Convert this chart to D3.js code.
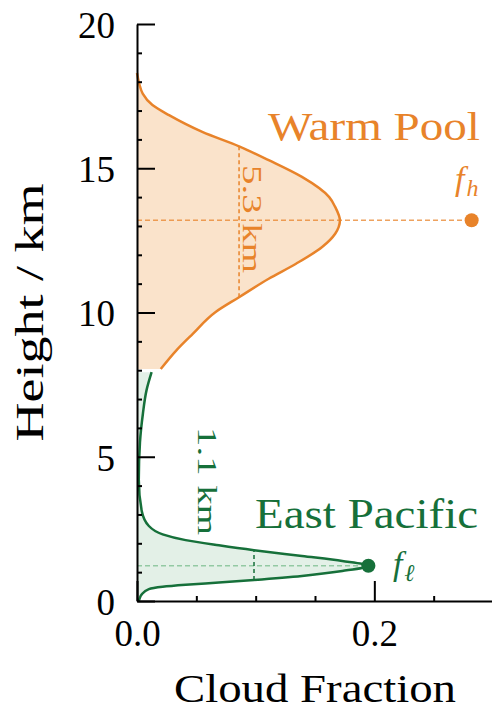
<!DOCTYPE html>
<html>
<head>
<meta charset="utf-8">
<script src="https://cdn.jsdelivr.net/npm/d3@7"></script>
<style>
  body { margin: 0; background: #fff; }
  svg { display: block; }
</style>
</head>
<body>
<svg id="chart" width="492" height="712"></svg>
<script>
// ---- data (height in km, cloud fraction) ----
const warmHeights  = [8.04, 8.68, 9.26, 10.01, 10.53, 11.17, 11.69, 12.27, 12.73, 13.19, 13.66, 14.0, 14.7, 15.28, 15.76, 16.26, 16.84, 17.19, 17.59, 17.94, 18.3];
const warmFraction = [0.020, 0.033, 0.047, 0.066, 0.086, 0.111, 0.134, 0.156, 0.167, 0.171, 0.167, 0.162, 0.139, 0.111, 0.086, 0.055, 0.027, 0.013, 0.0048, 0.0018, 0.0];

const eastHeights  = [0.0, 0.06, 0.23, 0.41, 0.49, 0.56, 0.64, 0.73, 0.87, 1.04, 1.22, 1.39, 1.56, 1.76, 1.93, 2.11, 2.31, 2.6, 3.12, 4.2, 5.5, 6.5, 7.3, 7.93];
const eastFraction = [0.0015, 0.002, 0.004, 0.010, 0.0216, 0.041, 0.069, 0.0986, 0.139, 0.173, 0.195, 0.173, 0.139, 0.0986, 0.069, 0.041, 0.0216, 0.010, 0.004, 0.0015, 0.0025, 0.005, 0.008, 0.0123];

// marker points: [fraction, height]
const fHigh = [0.282, 13.2];
const fLow  = [0.195, 1.22];

// layer thickness marks: [fraction, bottom, top]
const warmWidth = [0.086, 10.53, 15.76];
const eastWidth = [0.0986, 0.73, 1.76];

const yTicks = [0, 5, 10, 15, 20];
const xTicks = [0.0, 0.2];
const yMinor = [1, 2, 3, 4, 6, 7, 8, 9, 11, 12, 13, 14, 16, 17, 18, 19];
const xMinor = [0.05, 0.1, 0.15, 0.25];

const serif = "'Liberation Serif', 'DejaVu Serif', serif";
const orange = "#e8832a", orangeFill = "#fae3cb";
const green = "#16703a", greenFill = "#e3f0e7", greenDash = "#93c9a3";

const svg = d3.select("#chart");

const x = d3.scaleLinear().domain([0, 0.3]).range([137, 493]);
const y = d3.scaleLinear().domain([0, 20]).range([601, 24]);

function profile(hs, fs) {
  return hs.map((h, i) => ({ h: h, f: fs[i] }));
}
const warm = profile(warmHeights, warmFraction);
const east = profile(eastHeights, eastFraction);

const area = d3.area()
  .curve(d3.curveMonotoneY)
  .y(d => y(d.h))
  .x0(x(0))
  .x1(d => x(d.f));

const line = d3.line()
  .curve(d3.curveMonotoneY)
  .y(d => y(d.h))
  .x(d => x(d.f));

// fills
svg.append("path").datum(warm).attr("d", area).attr("fill", orangeFill);
svg.append("path").datum(east).attr("d", area).attr("fill", greenFill);

// dashed guide lines
svg.append("line")
  .attr("x1", x(0)).attr("x2", x(fHigh[0]))
  .attr("y1", y(fHigh[1])).attr("y2", y(fHigh[1]))
  .attr("stroke", orange).attr("stroke-opacity", 0.75)
  .attr("stroke-width", 1.5).attr("stroke-dasharray", "5,3");
svg.append("line")
  .attr("x1", x(warmWidth[0])).attr("x2", x(warmWidth[0]))
  .attr("y1", y(warmWidth[1])).attr("y2", y(warmWidth[2]))
  .attr("stroke", orange).attr("stroke-width", 1.5).attr("stroke-dasharray", "4,3");

svg.append("line")
  .attr("x1", x(0)).attr("x2", x(fLow[0]))
  .attr("y1", y(fLow[1])).attr("y2", y(fLow[1]))
  .attr("stroke", greenDash).attr("stroke-width", 1.5).attr("stroke-dasharray", "5,3");
svg.append("line")
  .attr("x1", x(eastWidth[0])).attr("x2", x(eastWidth[0]))
  .attr("y1", y(eastWidth[1])).attr("y2", y(eastWidth[2]))
  .attr("stroke", green).attr("stroke-width", 1.5).attr("stroke-dasharray", "4,3");

// profile curves
svg.append("path").datum(warm).attr("d", line)
  .attr("fill", "none").attr("stroke", orange).attr("stroke-width", 2.5);
svg.append("path").datum(east).attr("d", line)
  .attr("fill", "none").attr("stroke", green).attr("stroke-width", 2.5);

// markers
svg.append("circle").attr("cx", x(fHigh[0])).attr("cy", y(fHigh[1])).attr("r", 7).attr("fill", orange);
svg.append("circle").attr("cx", x(fLow[0])).attr("cy", y(fLow[1])).attr("r", 7).attr("fill", green);

// axes (ticks pointing inward)
function styleAxis(g) {
  g.attr("font-family", serif).attr("font-size", 37);
  g.selectAll("line, path").attr("stroke", "#000").attr("stroke-width", 2);
  g.selectAll("text").attr("fill", "#000");
}

svg.append("g")
  .attr("transform", `translate(${x(0)},0)`)
  .call(d3.axisLeft(y).tickValues(yMinor).tickSize(-5).tickFormat(""))
  .call(g => g.select(".domain").remove())
  .call(styleAxis);

svg.append("g")
  .attr("transform", `translate(0,${y(0)})`)
  .call(d3.axisBottom(x).tickValues(xMinor).tickSize(-5).tickFormat(""))
  .call(g => g.select(".domain").remove())
  .call(styleAxis);

svg.append("g")
  .attr("transform", `translate(${x(0)},0)`)
  .call(d3.axisLeft(y).tickValues(yTicks).tickSize(-18).tickSizeOuter(0).tickPadding(22))
  .call(styleAxis)
  .call(g => g.selectAll("text").attr("dy", "0.36em"));

svg.append("g")
  .attr("transform", `translate(0,${y(0)})`)
  .call(d3.axisBottom(x).tickValues(xTicks).tickFormat(d3.format(".1f")).tickSize(-20).tickSizeOuter(0).tickPadding(19))
  .call(styleAxis);

// axis titles
svg.append("text")
  .attr("x", (x.range()[0] + x.range()[1]) / 2).attr("y", 702)
  .attr("text-anchor", "middle")
  .attr("font-family", serif).attr("font-size", 40)
  .attr("textLength", 282).attr("lengthAdjust", "spacingAndGlyphs")
  .text("Cloud Fraction");

svg.append("text")
  .attr("transform", `translate(43,${(y.range()[0] + y.range()[1]) / 2}) rotate(-90)`)
  .attr("text-anchor", "middle")
  .attr("font-family", serif).attr("font-size", 40)
  .attr("textLength", 258).attr("lengthAdjust", "spacingAndGlyphs")
  .text("Height / km");

// annotations
svg.append("text")
  .attr("x", x(0.289)).attr("y", y(15.98))
  .attr("text-anchor", "end")
  .attr("font-family", serif).attr("font-size", 41).attr("fill", orange)
  .attr("textLength", 212).attr("lengthAdjust", "spacingAndGlyphs")
  .text("Warm Pool");

svg.append("text")
  .attr("x", x(0.2874)).attr("y", y(2.53))
  .attr("text-anchor", "end")
  .attr("font-family", serif).attr("font-size", 42).attr("fill", green)
  .attr("textLength", 223).attr("lengthAdjust", "spacingAndGlyphs")
  .text("East Pacific");

svg.append("text")
  .attr("transform", `translate(${x(0.0893)},${y(13.24)}) rotate(90)`)
  .attr("text-anchor", "middle")
  .attr("font-family", serif).attr("font-size", 28).attr("fill", orange)
  .attr("textLength", 108).attr("lengthAdjust", "spacingAndGlyphs")
  .text("5.3 km");

svg.append("text")
  .attr("transform", `translate(${x(0.0514)},${y(4.16)}) rotate(90)`)
  .attr("text-anchor", "middle")
  .attr("font-family", serif).attr("font-size", 28).attr("fill", green)
  .attr("textLength", 108).attr("lengthAdjust", "spacingAndGlyphs")
  .text("1.1 km");

function fLabel(fx, fy, sub, color) {
  const t = svg.append("text")
    .attr("x", x(fx)).attr("y", y(fy))
    .attr("font-family", serif).attr("font-style", "italic")
    .attr("font-size", 34).attr("fill", color);
  t.append("tspan").text("f");
  t.append("tspan").attr("font-size", 24).attr("dx", 2).attr("dy", 6).text(sub);
}
fLabel(0.268, 14.25, "h", orange);
fLabel(0.2157, 0.9, "\u2113", green);
</script>
</body>
</html>
